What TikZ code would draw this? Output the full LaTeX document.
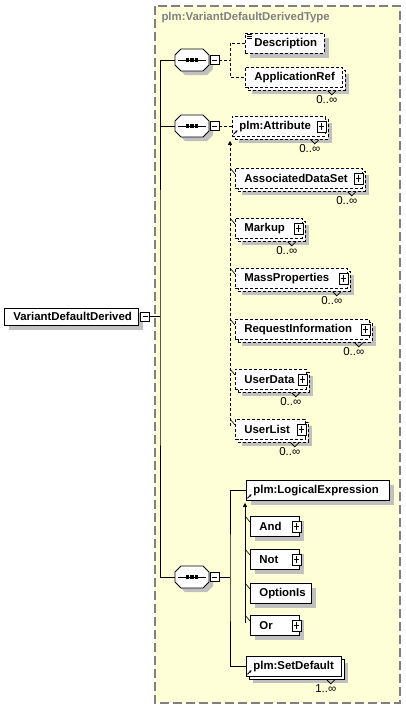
\documentclass[tikz,border=0pt]{standalone}
\usepackage{fontspec}
\setmainfont{Liberation Sans}
\usetikzlibrary{shadows,arrows.meta}
\definecolor{bgyellow}{RGB}{255,255,215}
\definecolor{shgray}{RGB}{192,192,192}
\definecolor{framegray}{RGB}{128,128,128}
\newcommand\elbl[3]{\makebox[#1pt][l]{\hspace*{#2pt}#3}}
\newcommand\seqshape[1]{%
  \fill[shgray, shift={(#1.center)}, xshift=4pt, yshift=-4pt] (-17,-5)--(-11,-11)--(11,-11)--(17,-5)--(17,5)--(11,11)--(-11,11)--(-17,5)--cycle;
  \filldraw[fill=white, line width=0.8pt, shift={(#1.center)}] (-17,-5)--(-11,-11)--(11,-11)--(17,-5)--(17,5)--(11,11)--(-11,11)--(-17,5)--cycle;
  \draw[line width=0.9pt, shift={(#1.center)}] (-14,0)--(14,0);
  \foreach \dx in {-4.5,0,4.5} \fill[shift={(#1.center)}] (\dx-1.6,-1.6) rectangle (\dx+1.6,1.6);
}
\newcommand\refarrow[1]{\draw[line width=0.8pt, -{Stealth[length=2.5pt,width=2.8pt]}] ([xshift=1.5pt,yshift=2.5pt]#1.south west) -- ++(4pt,4pt);}
\newcommand\notch[1]{\draw[line width=0.8pt] ([xshift=-15pt,yshift=-3pt]#1.south east) -- ++(4pt,-4pt) -- ++(4pt,4pt);}
\newcommand\mult[3]{\node[multfont, anchor=east, inner sep=0pt] (#2) at ([xshift=-5pt,yshift=-12pt]#1.south east) {#3};}
\begin{document}
\begin{tikzpicture}[x=1pt,y=-1pt,line width=1pt,
  boxfont/.style={font=\bfseries\fontsize{11.4}{13}\selectfont},
  multfont/.style={font=\fontsize{11.5}{13}\selectfont},
  elem/.style={draw, fill=white, anchor=north west, minimum height=20pt, inner sep=0pt, line width=0.8pt, boxfont},
  optl/.style={dash pattern=on 3pt off 2pt},
  single/.style={general shadow={fill=shgray, shadow xshift=5pt, shadow yshift=-5pt}},
  multi/.style={general shadow={fill=shgray, shadow xshift=7pt, shadow yshift=-7pt},
                general shadow={fill=white, draw, shadow xshift=3pt, shadow yshift=-3pt, #1}},
  multi/.default={},
  sqbtn/.style={draw, fill=white, minimum width=9pt, minimum height=9pt, inner sep=0pt, line width=0.8pt},
  minusbtn/.style={sqbtn, path picture={\draw[line width=0.8pt] ([xshift=-2.5pt]path picture bounding box.center) -- ([xshift=2.5pt]path picture bounding box.center);}},
  plusbtn/.style={sqbtn, minimum height=11pt, path picture={\draw[line width=0.8pt] ([xshift=-2.5pt]path picture bounding box.center) -- ([xshift=2.5pt]path picture bounding box.center) ([yshift=-3.5pt]path picture bounding box.center) -- ([yshift=3.5pt]path picture bounding box.center);}},
  comp/.style={minimum width=34pt, minimum height=22pt, inner sep=0pt},
  tick/.style={line width=0.6pt}
]
\useasboundingbox (0,0) rectangle (406,710);
\fill[white] (0,0) rectangle (406,710);
% complex type frame
\draw[framegray, fill=bgyellow, line width=1.3pt, dash pattern=on 9pt off 4pt] (155,6) rectangle (400,703);
\node[anchor=west, inner sep=0pt, text=framegray, boxfont] (title) at (161,18) {plm:VariantDefaultDerivedType};

% root
\node[elem, minimum height=17pt, single] (root) at (4,308) {\elbl{134}{9}{VariantDefaultDerived}};
\node[minusbtn] (rootm) at (145,316.5) {};

% compositors
\node[comp] (s1) at (192,60) {};
\node[comp] (s2) at (192,126) {};
\node[comp] (s3) at (192,577) {};
\seqshape{s1}\seqshape{s2}\seqshape{s3}
\node[minusbtn] (s1m) at (214.5,60) {};
\node[minusbtn] (s2m) at (214.5,126) {};
\node[minusbtn] (s3m) at (214.5,577) {};

% trunk
\coordinate (t0) at (160,316.5);
\draw (rootm.east) -- (t0);
\draw (s1.west) -| (t0) |- (s3.west);
\draw (s2.west) -- (s2.west -| t0);

% sequence 1
\node[elem, optl, single] (desc) at (245,33) {\elbl{79}{9}{Description}};
\draw[line width=0.6pt] ([xshift=2pt,yshift=-1.5pt]desc.north west) -- ++(5pt,0pt)
  ([xshift=2pt,yshift=-3.2pt]desc.north west) -- ++(5pt,0pt)
  ([xshift=2pt,yshift=-4.9pt]desc.north west) -- ++(5pt,0pt);
\node[elem, optl, multi=optl] (appref) at (245,67) {\elbl{97}{9}{ApplicationRef}};
\notch{appref}
\mult{appref}{appm}{0..∞}
\coordinate (b1) at (230,60);
\draw[optl] (s1m.east) -- (b1);
\draw[optl] (desc.west) -| (b1) |- (appref.west);

% sequence 2
\node[elem, optl, multi=optl] (attr) at (232,116) {\elbl{93}{7}{plm:Attribute}};
\node[plusbtn] (attrp) at ([xshift=-4pt]attr.east) {};
\refarrow{attr}
\notch{attr}
\mult{attr}{attrm}{0..∞}
\draw[optl] (s2m.east) -- (s2m.east -| attr.west);

\node[elem, optl, multi=optl] (ads) at (235,168) {\elbl{127}{9}{AssociatedDataSet}};
\node[elem, optl, multi=optl] (markup) at (235,218) {\elbl{67}{9}{Markup}};
\node[elem, optl, multi=optl] (mass) at (235,268) {\elbl{112}{9}{MassProperties}};
\node[elem, optl, multi=optl] (reqinfo) at (235,319) {\elbl{134}{9}{RequestInformation}};
\node[elem, optl, multi=optl] (userdata) at (235,369) {\elbl{71}{9}{UserData}};
\node[elem, optl, multi=optl] (userlist) at (235,419) {\elbl{70}{9}{UserList}};
\foreach \m in {ads,markup,mass,reqinfo,userdata,userlist}{
  \node[plusbtn] (\m p) at ([xshift=-4pt]\m.east) {};
  \notch{\m}
  \mult{\m}{\m mm}{0..∞}
}
\coordinate (b2) at (230,126);
\coordinate (g1a) at ([yshift=-4pt]attr.south west);
\coordinate (g1b) at ([yshift=-7pt]userlist.north west);
\draw[optl, line width=0.8pt, -{Triangle[length=4pt,width=4pt]}] (g1b -| b2) -- (g1a -| b2);
\foreach \m in {ads,markup,mass,reqinfo,userdata,userlist}{
  \draw[tick] (\m.north west -| b2) -- ([yshift=-6pt]\m.north west);
}

% sequence 3
\node[elem, single] (logexp) at (246,480) {\elbl{143}{7}{plm:LogicalExpression}};
\refarrow{logexp}
\node[elem, single] (and) at (250,516) {\elbl{49}{9}{And}};
\node[elem, single] (not) at (250,549) {\elbl{49}{9}{Not}};
\node[elem, single] (optionis) at (250,583) {\elbl{61}{9}{OptionIs}};
\node[elem, single] (or) at (250,615) {\elbl{49}{9}{Or}};
\node[plusbtn] (andp) at ([xshift=-3pt]and.east) {};
\node[plusbtn] (notp) at ([xshift=-3pt]not.east) {};
\node[plusbtn] (orp) at ([xshift=-3pt]or.east) {};
\node[elem, multi] (setdef) at (246,656) {\elbl{95}{7}{plm:SetDefault}};
\refarrow{setdef}
\notch{setdef}
\mult{setdef}{setm}{1..∞}
\coordinate (b3) at (230,577);
\draw (s3m.east) -- (b3);
\draw (logexp.west) -| (b3) |- (setdef.west);
\coordinate (b4) at (245,577);
\coordinate (g2a) at ([yshift=-2pt]logexp.south west);
\coordinate (g2b) at ([yshift=-8pt]or.north west);
\draw[line width=0.8pt, -{Triangle[length=4pt,width=4pt]}] (g2b -| b4) -- (g2a -| b4);
\foreach \m in {and,not,optionis,or}{
  \draw[tick] (\m.north west -| b4) -- ([yshift=-6pt]\m.north west);
}
\end{tikzpicture}
\end{document}
